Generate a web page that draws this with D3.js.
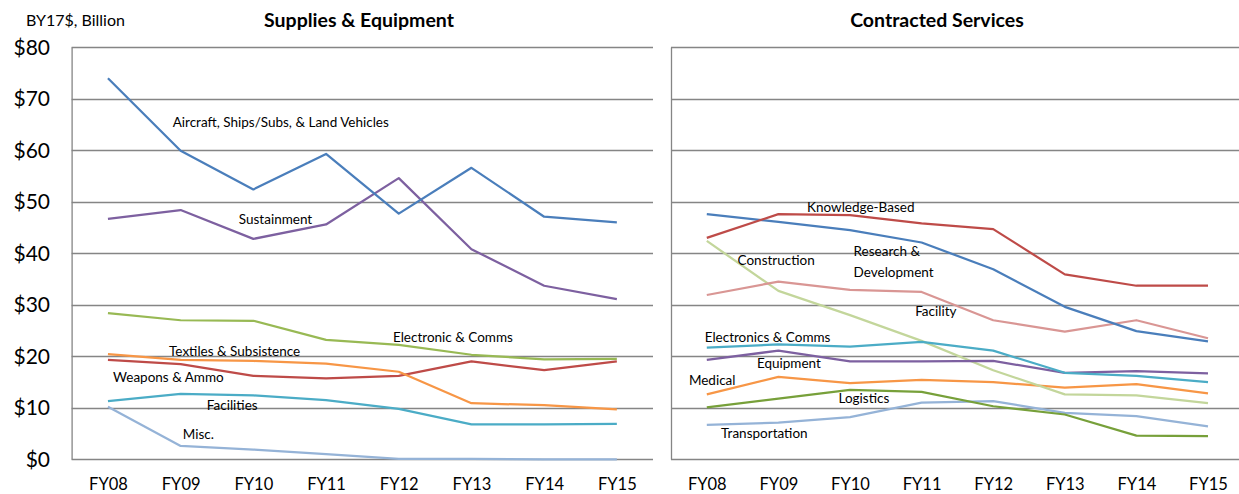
<!DOCTYPE html>
<html>
<head>
<meta charset="utf-8">
<script src="https://cdn.jsdelivr.net/npm/d3@7"></script>
<style>
  body { margin: 0; background: #fff; }
  text { font-family: Lato, "Open Sans", sans-serif; fill: #000; }
</style>
</head>
<body>
<div id="chart"></div>
<script>
// categories and axis ticks
var years = ["FY08", "FY09", "FY10", "FY11", "FY12", "FY13", "FY14", "FY15"];
var yTicks = [0, 10, 20, 30, 40, 50, 60, 70, 80];

// Supplies & Equipment series (BY17$ billion)
var aircraft = [74.0, 59.9, 52.4, 59.3, 47.7, 56.6, 47.1, 46.0];
var sustainment = [46.7, 48.4, 42.8, 45.6, 54.6, 40.8, 33.7, 31.1];
var electronicSE = [28.4, 27.0, 26.9, 23.2, 22.2, 20.3, 19.4, 19.5];
var textiles = [20.4, 19.3, 19.1, 18.6, 17.0, 10.9, 10.5, 9.7];
var weapons = [19.3, 18.5, 16.2, 15.7, 16.2, 19.0, 17.3, 19.0];
var facilitiesSE = [11.3, 12.7, 12.4, 11.5, 9.8, 6.8, 6.8, 6.9];
var misc = [10.2, 2.6, 1.9, 1.0, 0.1, 0.1, 0.0, 0.0];

// Contracted Services series (BY17$ billion)
var researchDev = [47.6, 46.1, 44.5, 42.1, 36.9, 29.6, 24.9, 22.9];
var knowledge = [43.0, 47.6, 47.4, 45.8, 44.7, 35.9, 33.7, 33.7];
var facility = [31.9, 34.5, 32.9, 32.5, 27.0, 24.8, 27.0, 23.5];
var construction = [42.4, 32.7, 28.0, 23.0, 17.3, 12.6, 12.4, 10.9];
var electronicCS = [21.7, 22.3, 21.9, 22.8, 21.1, 16.8, 16.2, 15.0];
var equipment = [19.3, 21.1, 19.0, 19.0, 19.1, 16.8, 17.1, 16.7];
var medical = [12.6, 16.0, 14.8, 15.4, 15.0, 13.9, 14.6, 12.8];
var logistics = [10.1, 11.8, 13.5, 13.1, 10.3, 8.7, 4.6, 4.5];
var transportation = [6.7, 7.1, 8.2, 11.0, 11.3, 9.0, 8.4, 6.4];

// label anchors: category position (fractional index) and value
var leftLabels = [
  { text: "Aircraft, Ships/Subs, & Land Vehicles", i: 0.89, v: 65.5 },
  { text: "Sustainment", i: 1.80, v: 46.6 },
  { text: "Electronic & Comms", i: 3.92, v: 23.7 },
  { text: "Textiles & Subsistence", i: 0.84, v: 21.0 },
  { text: "Weapons & Ammo", i: 0.07, v: 16.0 },
  { text: "Facilities", i: 1.36, v: 10.4 },
  { text: "Misc.", i: 1.03, v: 4.8 }
];
var rightLabels = [
  { text: "Knowledge-Based", i: 1.40, v: 49.0 },
  { text: "Construction", i: 0.43, v: 38.7 },
  { text: "Research &", i: 2.05, v: 40.3 },
  { text: "Development", i: 2.05, v: 36.4 },
  { text: "Facility", i: 2.91, v: 28.8 },
  { text: "Electronics & Comms", i: -0.03, v: 23.7 },
  { text: "Equipment", i: 0.70, v: 18.7 },
  { text: "Medical", i: -0.25, v: 15.4 },
  { text: "Logistics", i: 1.84, v: 11.9 },
  { text: "Transportation", i: 0.20, v: 5.1 }
];

var width = 1239, height = 494;
var svg = d3.select("#chart").append("svg")
  .attr("width", width)
  .attr("height", height);

var yScale = d3.scaleLinear()
  .domain([0, 80])
  .range([459.3, 47.3]);

// draw one panel
function drawPanel(opts) {
  var xScale = d3.scalePoint()
    .domain(years)
    .range([opts.x0 + opts.step / 2, opts.x0 + opts.step * 7.5]);
  var xIdx = d3.scaleLinear()
    .domain([0, 7])
    .range([opts.x0 + opts.step / 2, opts.x0 + opts.step * 7.5]);

  var g = svg.append("g");

  // gridlines
  g.selectAll("line.grid")
    .data(yTicks)
    .enter().append("line")
    .attr("class", "grid")
    .attr("x1", opts.gridX0)
    .attr("x2", opts.gridX1)
    .attr("y1", function (d) { return Math.round(yScale(d)) + 0.5; })
    .attr("y2", function (d) { return Math.round(yScale(d)) + 0.5; })
    .attr("stroke", "#858585")
    .attr("stroke-width", 1.3);

  // left border of plot area
  g.append("line")
    .attr("x1", opts.x0 + 0.5).attr("x2", opts.x0 + 0.5)
    .attr("y1", Math.round(yScale(80)) + 0.5)
    .attr("y2", Math.round(yScale(0)) + 0.5)
    .attr("stroke", "#858585")
    .attr("stroke-width", 1.3);

  // x axis labels
  var xAxis = d3.axisBottom(xScale).tickSize(0).tickPadding(0);
  var ax = g.append("g")
    .attr("transform", "translate(0,484)")
    .call(xAxis);
  ax.select(".domain").remove();
  ax.selectAll("text")
    .attr("dy", "0.35em")
    .style("font-size", "16.5px")
    .style("font-family", "Lato, sans-serif");

  // series lines
  var line = d3.line()
    .x(function (d, i) { return xScale(years[i]); })
    .y(function (d) { return yScale(d); });

  opts.series.forEach(function (s) {
    g.append("path")
      .datum(s.values)
      .attr("fill", "none")
      .attr("stroke", s.color)
      .attr("stroke-width", 2.25)
      .attr("stroke-linejoin", "round")
      .attr("d", line);
  });

  // series labels
  g.selectAll("text.lbl")
    .data(opts.labels)
    .enter().append("text")
    .attr("class", "lbl")
    .attr("x", function (d) { return xIdx(d.i); })
    .attr("y", function (d) { return yScale(d.v); })
    .attr("dy", "0.35em")
    .style("font-size", "13.5px")
    .text(function (d) { return d.text; });

  // panel title
  svg.append("text")
    .attr("x", opts.titleX)
    .attr("y", 20)
    .attr("dy", "0.35em")
    .attr("text-anchor", "middle")
    .style("font-size", "19.5px")
    .style("font-weight", "bold")
    .text(opts.title);
}

drawPanel({
  title: "Supplies & Equipment",
  titleX: 359,
  x0: 71.6, step: 72.7,
  gridX0: 71.6, gridX1: 653,
  labels: leftLabels,
  series: [
    { values: misc, color: "#95b3d7" },
    { values: facilitiesSE, color: "#4bacc6" },
    { values: weapons, color: "#be4b48" },
    { values: textiles, color: "#f79646" },
    { values: electronicSE, color: "#98b954" },
    { values: sustainment, color: "#7d60a0" },
    { values: aircraft, color: "#4a7ebb" }
  ]
});

drawPanel({
  title: "Contracted Services",
  titleX: 937,
  x0: 671, step: 71.6,
  gridX0: 671, gridX1: 1239,
  labels: rightLabels,
  series: [
    { values: transportation, color: "#95b3d7" },
    { values: logistics, color: "#77a03a" },
    { values: medical, color: "#f79646" },
    { values: construction, color: "#c3d69b" },
    { values: equipment, color: "#7d60a0" },
    { values: electronicCS, color: "#4bacc6" },
    { values: facility, color: "#d99694" },
    { values: researchDev, color: "#4a7ebb" },
    { values: knowledge, color: "#be4b48" }
  ]
});

// y axis tick labels (left panel only)
var yAxis = d3.axisLeft(yScale)
  .tickValues(yTicks)
  .tickSize(0)
  .tickPadding(0)
  .tickFormat(function (d) { return "$" + d; });
var ay = svg.append("g")
  .attr("transform", "translate(50,0)")
  .call(yAxis);
ay.select(".domain").remove();
ay.selectAll("text")
  .style("font-size", "21px")
  .style("font-family", "Lato, sans-serif");

// unit label
svg.append("text")
  .attr("x", 26)
  .attr("y", 20)
  .attr("dy", "0.35em")
  .style("font-size", "16px")
  .text("BY17$, Billion");
</script>
</body>
</html>
